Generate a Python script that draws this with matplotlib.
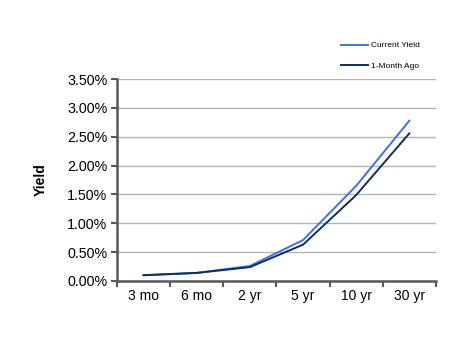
import numpy as np
import matplotlib.pyplot as plt
from matplotlib.ticker import FuncFormatter, FixedLocator

plt.rcParams['font.family'] = ['Liberation Sans', 'DejaVu Sans']

maturities = ['3 mo', '6 mo', '2 yr', '5 yr', '10 yr', '30 yr']
current_yield = [0.10, 0.14, 0.26, 0.71, 1.65, 2.78]
month_ago = [0.10, 0.14, 0.24, 0.63, 1.49, 2.56]

fig = plt.figure(figsize=(4.67, 3.41), dpi=100)
ax = fig.add_axes([0.2505, 0.176, 0.683, 0.592])

x = np.arange(len(maturities))
ax.plot(x, current_yield, color='#3f6ff0', lw=1.4, label='Current Yield')
ax.plot(x, month_ago, color='#0f2d5c', lw=1.4, label='1-Month Ago')

ax.set_xlim(-0.5, len(maturities) - 0.5)
ax.set_ylim(0, 3.5)
ax.set_yticks(np.arange(0, 3.51, 0.5))
ax.yaxis.set_major_formatter(FuncFormatter(lambda v, p: f'{v:.2f}%'))
ax.set_xticks(x)
ax.set_xticklabels(maturities)
ax.xaxis.set_minor_locator(FixedLocator(np.arange(-0.5, len(maturities), 1.0)))
ax.tick_params(axis='x', which='major', length=0, pad=6, labelsize=10)
ax.tick_params(axis='x', which='minor', length=4, width=1.5, color='#595959', direction='out')
ax.tick_params(axis='y', length=4, width=1.5, color='#595959', labelsize=10.3, pad=3)

ax.grid(axis='y', color='#b4b4b4', lw=1)
ax.set_axisbelow(True)
for s in ['top', 'right']:
    ax.spines[s].set_visible(False)
for s in ['left', 'bottom']:
    ax.spines[s].set_color('#595959')
    ax.spines[s].set_linewidth(1.8)

ax.set_ylabel('Yield', fontsize=10, fontweight='bold', labelpad=14)

fig.legend(loc='upper left', bbox_to_anchor=(0.715, 0.9), frameon=False,
           fontsize=6, handlelength=3.2, labelspacing=1.55, handletextpad=0.4)

fig.savefig('out.png', dpi=100)
